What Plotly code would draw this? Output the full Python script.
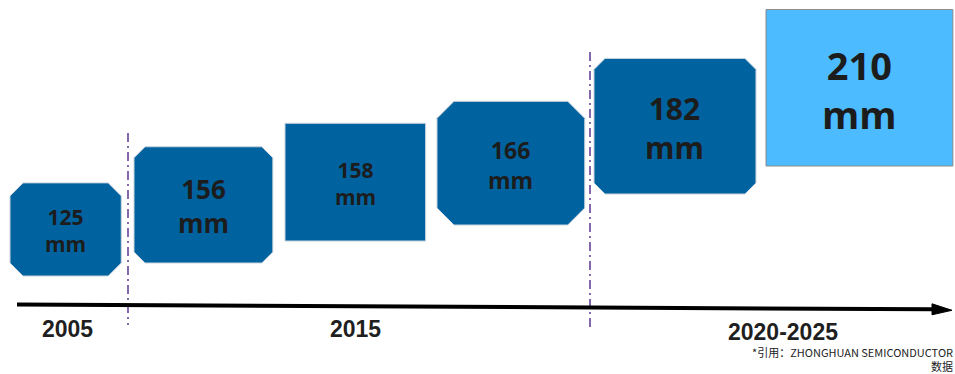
import plotly.graph_objects as go

# ---- data ----
wafer_sizes = [125, 156, 158, 166, 182, 210]          # mm
wafer_unit = "mm"
wafer_kind = ["chamfer", "chamfer", "square", "chamfer", "chamfer", "square"]
era_labels = ["2005", "2015", "2020-2025"]
note_lines = ["*引用：ZHONGHUAN SEMICONDUCTOR", "数据"]

# ---- layout (pixel canvas) ----
W, H = 955, 374
PX_PER_MM_X = 0.89
PX_PER_MM_Y = 0.745
box_left = [10, 134, 285, 437, 594, 766]
box_bottom = [276, 263, 241, 225, 194, 166]
box_chamfer = [13, 11, 0, 17, 11, 0]
label_font = [21, 26, 21, 23, 30, 38]
fill_colors = ["#0063A0", "#0063A0", "#0063A0", "#0063A0", "#0063A0", "#4DBBFF"]
edge_colors = ["#c9d3dc", "#c9d3dc", "#c9d3dc", "#c9d3dc", "#c9d3dc", "#8a8a8a"]
era_x = [67, 355, 783]
era_y = [329, 329, 332]
divider_x = [128, 590]
divider_top = [133, 52]
divider_bottom = [325, 328]

fig = go.Figure()

for i, s in enumerate(wafer_sizes):
    w = s * PX_PER_MM_X
    h = s * PX_PER_MM_Y
    x0, x1 = box_left[i], box_left[i] + w
    y1 = box_bottom[i]
    y0 = y1 - h
    c = box_chamfer[i] if wafer_kind[i] == "chamfer" else 0
    if c:
        xs = [x0 + c, x1 - c, x1, x1, x1 - c, x0 + c, x0, x0, x0 + c]
        ys = [y0, y0, y0 + c, y1 - c, y1, y1, y1 - c, y0 + c, y0]
    else:
        xs = [x0, x1, x1, x0, x0]
        ys = [y0, y0, y1, y1, y0]
    fig.add_trace(go.Scatter(x=xs, y=ys, mode="lines", fill="toself",
                             fillcolor=fill_colors[i],
                             line=dict(color=edge_colors[i], width=1),
                             hoverinfo="skip", showlegend=False))
    cx = (x0 + x1) / 2
    cy = (y0 + y1) / 2 + 1.5
    f = label_font[i]
    fig.add_annotation(x=cx, y=cy, text=f"<b>{s}<br>{wafer_unit}</b>", showarrow=False,
                       xanchor="center", yanchor="middle", align="center",
                       font=dict(family="Open Sans", size=f, color="#1c1c1c"))

# dividers
for i, xd in enumerate(divider_x):
    fig.add_trace(go.Scatter(x=[xd, xd], y=[divider_top[i], divider_bottom[i]],
                             mode="lines",
                             line=dict(color="#8567AE", width=2, dash="9px,4px,2px,4px"),
                             hoverinfo="skip", showlegend=False))

# timeline arrow
ax0, ay0 = 17, 304.5
ax1, ay1 = 933, 309.3
tip_x, tip_y = 952, 310.3
fig.add_trace(go.Scatter(x=[ax0, ax1], y=[ay0, ay1], mode="lines",
                         line=dict(color="#000000", width=4),
                         hoverinfo="skip", showlegend=False))
fig.add_trace(go.Scatter(x=[ax1 - 1, tip_x, ax1 - 1, ax1 - 1],
                         y=[ay1 - 5.5, tip_y, ay1 + 5.5, ay1 - 5.5],
                         mode="lines", fill="toself", fillcolor="#000000",
                         line=dict(color="#000000", width=1),
                         hoverinfo="skip", showlegend=False))

for i, lab in enumerate(era_labels):
    fig.add_annotation(x=era_x[i], y=era_y[i], text=f"<b>{lab}</b>", showarrow=False,
                       xanchor="center", yanchor="middle",
                       font=dict(family="Liberation Sans", size=23, color="#1f1f1f"))

fig.add_annotation(x=955, y=359, text="<br>".join(note_lines), showarrow=False,
                   xanchor="right", yanchor="middle", align="right",
                   font=dict(family="Noto Sans CJK SC", size=11, color="#222222"))

fig.update_layout(
    width=W, height=H, autosize=False,
    margin=dict(l=0, r=0, t=0, b=0),
    paper_bgcolor="white", plot_bgcolor="white",
    xaxis=dict(range=[0, W], visible=False, fixedrange=True),
    yaxis=dict(range=[H, 0], visible=False, fixedrange=True),
    showlegend=False,
)

fig.write_html("out.html")
